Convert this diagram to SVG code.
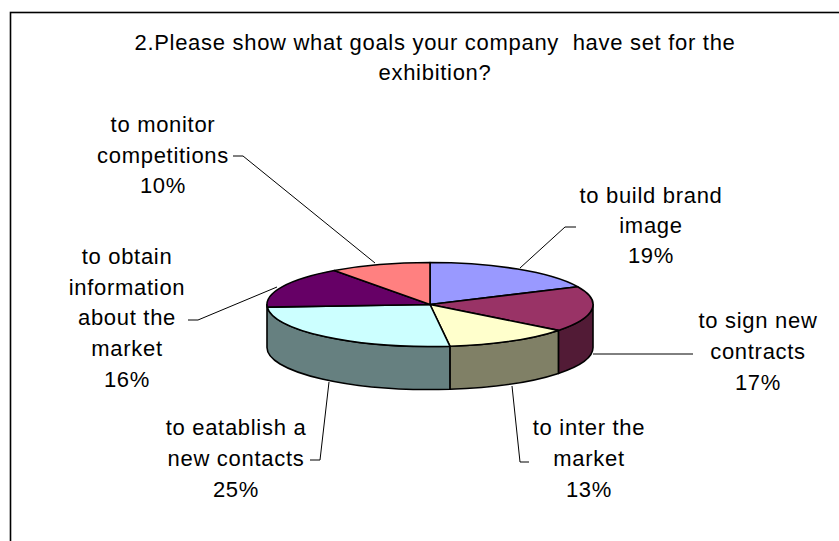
<svg xmlns="http://www.w3.org/2000/svg" width="839" height="541" viewBox="0 0 839 541">
<style>
text{font-family:"Liberation Sans",Arial,sans-serif;font-size:22px;fill:#000;text-anchor:middle;letter-spacing:0.7px}
.s{stroke:#000;stroke-width:1.6;stroke-linejoin:round}
.ld{fill:none;stroke:#000;stroke-width:1}
</style>
<rect x="0" y="0" width="839" height="541" fill="#fff"/>
<rect x="10.5" y="12.5" width="900" height="600" fill="#fff" stroke="#000" stroke-width="1.6"/>
<g id="title">
<text x="435" y="50" style="white-space:pre">2.Please show what goals your company  have set for the</text>
<text x="435" y="80">exhibition?</text>
</g>
<g id="pie">
<g id="sides">
<path class="s" fill="#521B36" d="M593,304.5 A163,42 0 0,1 558.4,330.4 L558.4,373.4 A163,42 0 0,0 593,347.5 Z"/>
<path class="s" fill="#808066" d="M558.4,330.4 A163,42 0 0,1 449.9,346.2 L449.9,389.2 A163,42 0 0,0 558.4,373.4 Z"/>
<path class="s" fill="#668080" d="M449.9,346.2 A163,42 0 0,1 267,304.5 L267,347.5 A163,42 0 0,0 449.9,389.2 Z"/>
</g>
<g id="slice-brand"><path class="s" fill="#9999FF" d="M430,304.5 L430,262.5 A163,42 0 0,1 577.7,286.75 Z"/></g>
<g id="slice-contracts"><path class="s" fill="#993366" d="M430,304.5 L577.7,286.75 A163,42 0 0,1 558.4,330.4 Z"/></g>
<g id="slice-market"><path class="s" fill="#FFFFCC" d="M430,304.5 L558.4,330.4 A163,42 0 0,1 449.9,346.2 Z"/></g>
<g id="slice-contacts"><path class="s" fill="#CCFFFF" d="M430,304.5 L449.9,346.2 A163,42 0 0,1 267.3,307.1 Z"/></g>
<g id="slice-information"><path class="s" fill="#660066" d="M430,304.5 L267.3,307.1 A163,42 0 0,1 334.2,270.5 Z"/></g>
<g id="slice-competitions"><path class="s" fill="#FF8080" d="M430,304.5 L334.2,270.5 A163,42 0 0,1 430,262.5 Z"/></g>
</g>
<g id="connectors">
<polyline class="ld" points="233,156 243,156 375,263"/>
<polyline class="ld" points="576,227 565,227 520,268"/>
<polyline class="ld" points="693,354 593,354"/>
<polyline class="ld" points="188,320 198,320 277,287"/>
<polyline class="ld" points="310,460 320,460 329,382"/>
<polyline class="ld" points="529,462 520,462 512,386"/>
</g>
<g id="label-competitions">
<text x="163" y="132">to monitor</text>
<text x="163" y="163">competitions</text>
<text x="163" y="193">10%</text>
</g>
<g id="label-brand">
<text x="651" y="203">to build brand</text>
<text x="651" y="233">image</text>
<text x="651" y="263">19%</text>
</g>
<g id="label-contracts">
<text x="758" y="328">to sign new</text>
<text x="758" y="359">contracts</text>
<text x="758" y="390">17%</text>
</g>
<g id="label-information">
<text x="127" y="264">to obtain</text>
<text x="127" y="295">information</text>
<text x="127" y="325">about the</text>
<text x="127" y="356">market</text>
<text x="127" y="387">16%</text>
</g>
<g id="label-contacts">
<text x="236" y="435">to eatablish a</text>
<text x="236" y="466">new contacts</text>
<text x="236" y="497">25%</text>
</g>
<g id="label-market">
<text x="589" y="435">to inter the</text>
<text x="589" y="466">market</text>
<text x="589" y="497">13%</text>
</g>
</svg>
